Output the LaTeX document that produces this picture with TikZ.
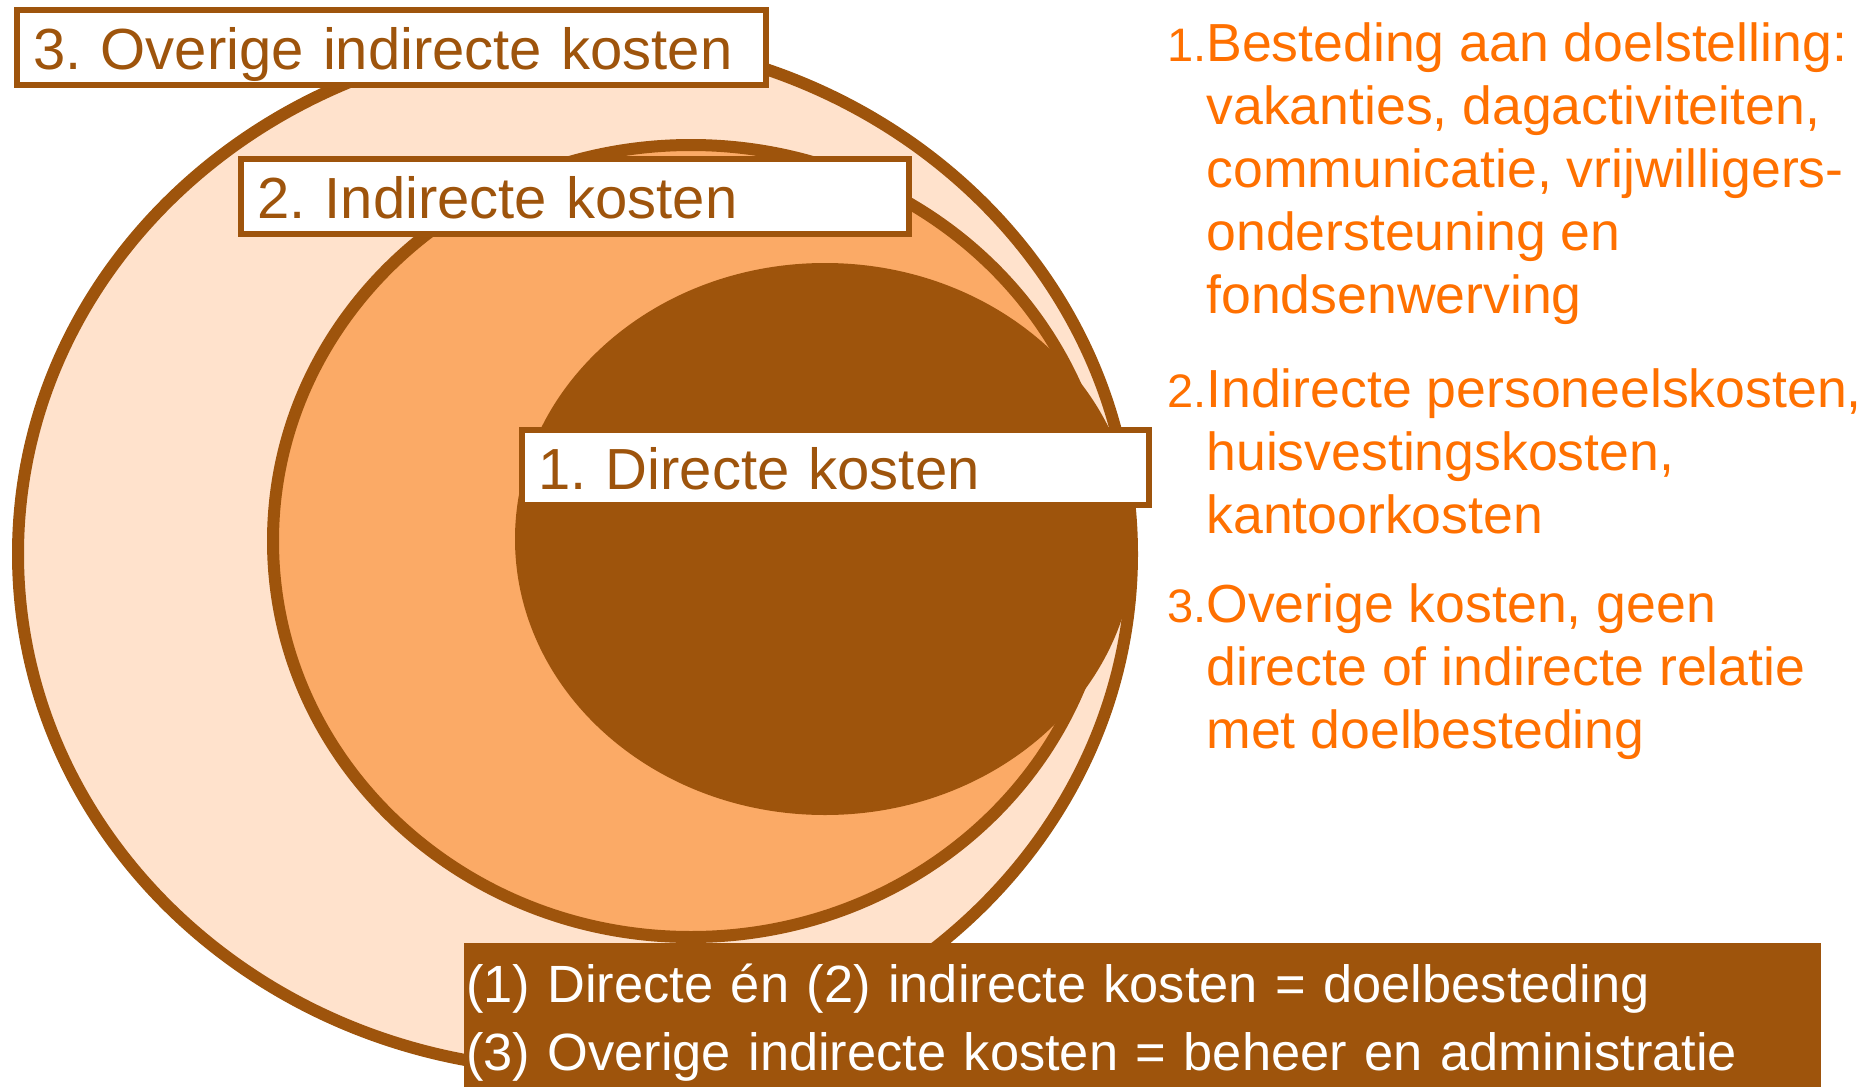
\documentclass[tikz,border=0pt]{standalone}
\usepackage{fontspec}
\setmainfont{Liberation Sans}
\usepackage{xcolor}
\usetikzlibrary{positioning}
\definecolor{bruin}{HTML}{9E540C}
\definecolor{oranje}{HTML}{FBAA66}
\definecolor{perzik}{HTML}{FFE2CC}
\definecolor{fel}{HTML}{FF7000}
\newcommand{\lijstnr}[1]{\llap{\fontsize{23.5}{28}\selectfont #1}}
\frenchspacing

\begin{document}
\begin{tikzpicture}[
  x=0.5pt, y=-0.5pt,
  ring/.style={draw=bruin, line width=6pt},
  kader/.style={draw=bruin, fill=white, line width=3pt, outer sep=0pt,
    anchor=north west, inner xsep=8pt, inner ysep=0pt, align=left,
    text height=29.5pt, text depth=8pt, text=bruin,
    font=\fontsize{29}{35}\selectfont},
  uitleg/.style={anchor=base west, align=left, text=fel, inner sep=0pt,
    font=\fontsize{26.8}{31.4}\selectfont}
]
\useasboundingbox (0,0) rectangle (1876,1087);

\draw[ring, fill=perzik] (575,554) ellipse [x radius=278.5pt, y radius=258pt];
\draw[ring, fill=oranje] (691,541) ellipse [x radius=209pt, y radius=198pt];
\fill[bruin] (825,539) ellipse [x radius=155pt, y radius=138pt];

\node[kader, text width=358.5pt] (kader3) at (17,10) {3. Overige indirecte kosten};
\node[kader, text width=318pt] (kader2) at (241,159) {2. Indirecte kosten};
\node[kader, text width=297.5pt] (kader1) at (522,430) {1. Directe kosten};

% ankers op de laatste regel
\node[uitleg] (uitleg1) at (1206,313) {\lijstnr{1.}Besteding aan doelstelling:\\
vakanties, dagactiviteiten,\\communicatie, vrijwilligers-\\ondersteuning en\\fondsenwerving};
\node[uitleg] (uitleg2) at (1206,533) {\lijstnr{2.}Indirecte personeelskosten,\\
huisvestingskosten,\\kantoorkosten};
\node[uitleg] (uitleg3) at (1206,748) {\lijstnr{3.}Overige kosten, geen\\
directe of indirecte relatie\\met doelbesteding};

\node[fill=bruin, text=white, anchor=north west, inner xsep=1pt, inner ysep=0pt,
  outer sep=0pt, text width=676.5pt, align=left, text height=29.5pt, text depth=42.5pt,
  font=\fontsize{26.2}{34}\selectfont] (besluit) at (464,943)
  {(1) Directe én (2) indirecte kosten = doelbesteding\\
   (3) Overige indirecte kosten = beheer en administratie};
\end{tikzpicture}
\end{document}
